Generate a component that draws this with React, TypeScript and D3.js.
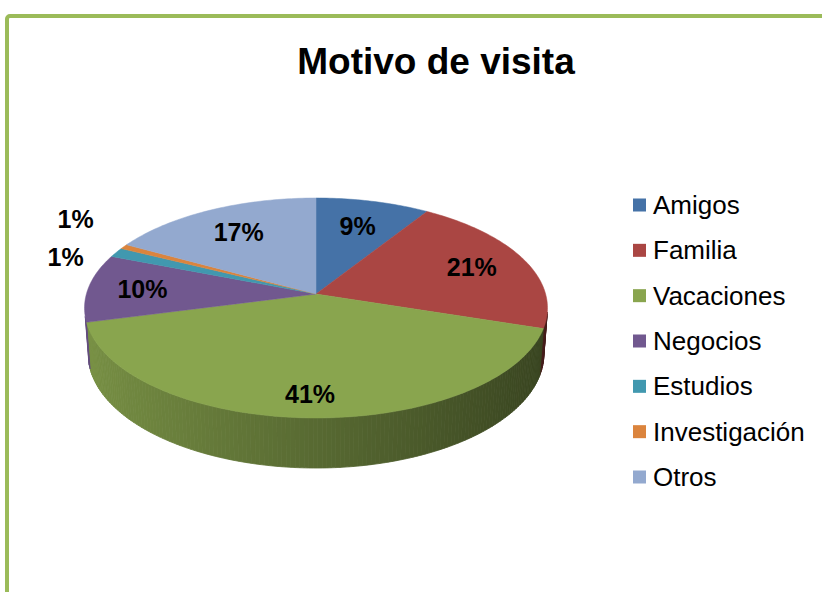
import React from "react";
import * as d3 from "d3";

const categories = ["Amigos", "Familia", "Vacaciones", "Negocios", "Estudios", "Investigación", "Otros"];
const values = [9, 21, 41, 10, 1.4, 0.7, 17];
const colors = ["#4572A7", "#AA4643", "#89A54E", "#71588F", "#4198AF", "#DB843D", "#93A9CF"];
const title = "Motivo de visita";

const W = 822, H = 592;
const FONT = "'Liberation Sans', Arial, sans-serif";

// 3d view of the pie
const cx = 316, cy = 294, R = 229.6;
const sinT = 0.4713, cosT = 0.882, dist = 6.93, depth = 0.229;

const project = (x: number, y: number, z: number): [number, number] => {
  const yc = z * sinT - y * cosT;
  const zc = z * cosT + y * sinT;
  const p = dist / (dist - zc);
  return [cx + R * x * p, cy + R * yc * p];
};

const rim = (a: number, r: number, y: number) => project(Math.sin(a) * r, y, -Math.cos(a) * r);

export default function App() {
  const total = d3.sum(values);
  const color = d3.scaleOrdinal<string, string>().domain(categories).range(colors);
  const arcs = d3.pie<number>().sort(null).startAngle(0).endAngle(2 * Math.PI)(values);
  const line = d3.line().curve(d3.curveLinearClosed);

  // side wall is only seen between these angles
  const v0 = Math.acos(-1 / (dist * cosT));
  const v1 = 2 * Math.PI - v0 - 0.04;
  const step = Math.PI / 180;

  const sides: { d: string; fill: string }[] = [];
  arcs.forEach((a, i) => {
    const s0 = Math.max(a.startAngle, v0), s1 = Math.min(a.endAngle, v1);
    if (s1 <= s0) return;
    const n = Math.max(1, Math.ceil((s1 - s0) / step));
    const base = d3.rgb(color(categories[i]));
    for (let k = 0; k < n; k++) {
      const t0 = s0 + (s1 - s0) * k / n, t1 = s0 + (s1 - s0) * (k + 1) / n;
      const f = 0.64 - 0.24 * Math.sin((t0 + t1) / 2);
      const fill = d3.rgb(base.r * f, base.g * f, base.b * f).formatHex();
      const pts = [rim(t0, 1, 0), rim(t1, 1, 0), rim(t1, 1, -depth), rim(t0, 1, -depth)];
      sides.push({ d: line(pts) as string, fill });
    }
  });

  const tops = arcs.map((a, i) => {
    const n = Math.max(2, Math.ceil((a.endAngle - a.startAngle) / step));
    const pts: [number, number][] = [project(0, 0, 0)];
    for (let k = 0; k <= n; k++) pts.push(rim(a.startAngle + (a.endAngle - a.startAngle) * k / n, 1, 0));
    return { d: line(pts) as string, fill: color(categories[i]) };
  });

  const labels = arcs.map((a, i) => {
    const pct = a.value / total * 100;
    const mid = (a.startAngle + a.endAngle) / 2;
    const outside = pct < 3;
    // labels sit a bit further out towards the front
    const r = outside ? 1.27 : 0.765 - 0.06 * Math.cos(mid);
    const [x, y] = rim(mid, r, 0);
    return { x, y, text: Math.round(pct) + "%", outside };
  });

  // push outside labels apart
  const outs = labels.filter(l => l.outside).sort((p, q) => p.y - q.y);
  for (let it = 0; it < 20; it++) {
    for (let k = 1; k < outs.length; k++) {
      const gap = outs[k].y - outs[k - 1].y;
      if (gap < 38) {
        const m = (38 - gap) / 2;
        outs[k].y += m;
        outs[k - 1].y -= m;
      }
    }
  }

  const legendY = d3.scalePoint<string>().domain(categories).range([205, 477]);

  return (
    <svg width={W} height={H} style={{ position: "absolute", left: 0, top: 0, background: "#fff" }}>
      <rect x={7} y={16} width={W + 20} height={H + 20} rx={3} fill="#fff" stroke="#9BBB59" strokeWidth={4} />
      <text x={436} y={74} textAnchor="middle" fontFamily={FONT} fontWeight="bold" fontSize={37} fill="#000">{title}</text>

      <g>
        {sides.map((s, i) => <path key={"s" + i} d={s.d} fill={s.fill} stroke={s.fill} strokeWidth={0.8} />)}
        {tops.map((s, i) => <path key={"t" + i} d={s.d} fill={s.fill} stroke={s.fill} strokeWidth={0.5} />)}
      </g>

      <g fontFamily={FONT} fontWeight="bold" fontSize={25} fill="#000" textAnchor="middle">
        {labels.map((l, i) => <text key={"l" + i} x={l.x} y={l.y} dy="0.36em">{l.text}</text>)}
      </g>

      <g fontFamily={FONT} fontSize={26} fill="#000">
        {categories.map(c => (
          <g key={c} transform={`translate(633,${legendY(c)})`}>
            <rect x={0} y={-6.5} width={13} height={13} fill={color(c)} />
            <text x={20} y={9}>{c}</text>
          </g>
        ))}
      </g>
    </svg>
  );
}
